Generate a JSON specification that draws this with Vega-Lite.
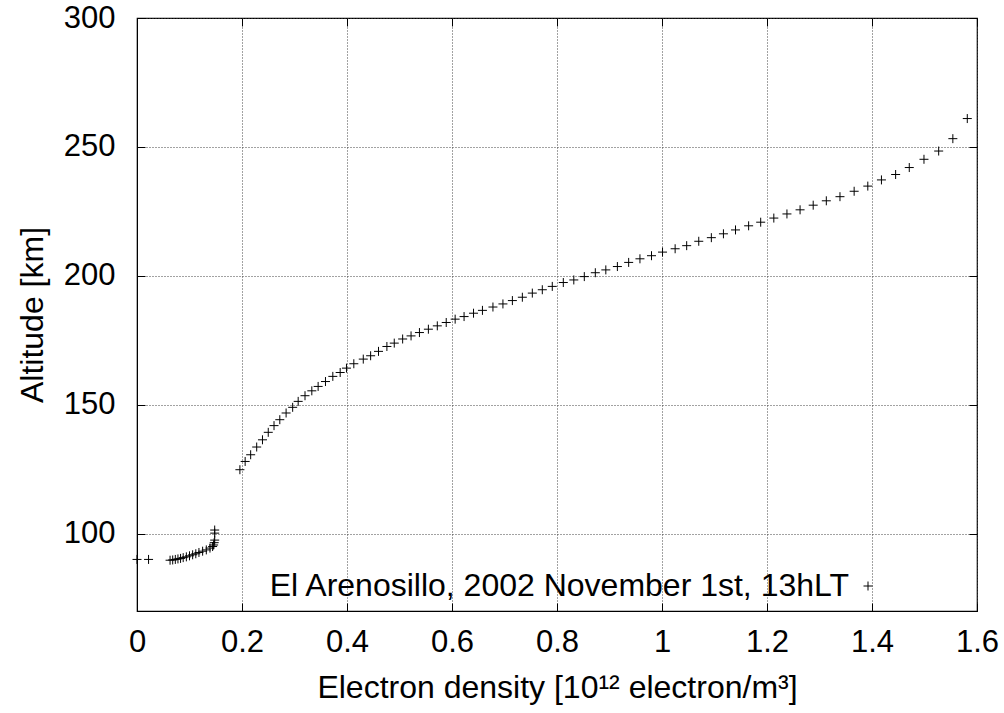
{
  "$schema": "https://vega.github.io/schema/vega-lite/v6.json",
  "width": 840,
  "height": 593,
  "autosize": "none",
  "padding": {"left": 137, "top": 18, "right": 27, "bottom": 102},
  "background": "white",
  "config": {
    "font": "Liberation Sans",
    "view": {"stroke": "black", "strokeWidth": 1.2},
    "axis": {
      "domainColor": "black",
      "tickColor": "black",
      "labelColor": "black",
      "titleColor": "black",
      "labelFont": "Liberation Sans",
      "titleFont": "Liberation Sans",
      "labelFontSize": 31,
      "titleFontSize": 32,
      "titleFontWeight": "normal",
      "labelFlush": false,
      "labelOverlap": false,
      "gridColor": "#444",
      "gridDash": [1, 2],
      "gridWidth": 1,
      "tickSize": -8,
      "tickWidth": 1
    },
    "legend": {
      "labelFont": "Liberation Sans",
      "labelFontSize": 32,
      "labelColor": "black",
      "labelLimit": 0
    }
  },
  "data": {
    "values": [
      {"density": 0.0, "altitude": 90.0},
      {"density": 0.022, "altitude": 90.0},
      {"density": 0.063, "altitude": 89.7},
      {"density": 0.068, "altitude": 89.8},
      {"density": 0.073, "altitude": 90.0},
      {"density": 0.078, "altitude": 90.2},
      {"density": 0.083, "altitude": 90.4},
      {"density": 0.088, "altitude": 90.7},
      {"density": 0.094, "altitude": 91.0},
      {"density": 0.100, "altitude": 91.4},
      {"density": 0.106, "altitude": 91.8},
      {"density": 0.112, "altitude": 92.2},
      {"density": 0.118, "altitude": 92.7},
      {"density": 0.125, "altitude": 93.2},
      {"density": 0.132, "altitude": 93.7},
      {"density": 0.139, "altitude": 94.4},
      {"density": 0.144, "altitude": 95.0},
      {"density": 0.146, "altitude": 95.6},
      {"density": 0.147, "altitude": 96.5},
      {"density": 0.148, "altitude": 97.5},
      {"density": 0.148, "altitude": 100.2},
      {"density": 0.148, "altitude": 101.4},
      {"density": 0.196, "altitude": 124.8},
      {"density": 0.206, "altitude": 128.0},
      {"density": 0.2165, "altitude": 130.6},
      {"density": 0.228, "altitude": 133.6},
      {"density": 0.239, "altitude": 136.4},
      {"density": 0.250, "altitude": 139.3},
      {"density": 0.261, "altitude": 141.9},
      {"density": 0.272, "altitude": 144.2},
      {"density": 0.284, "altitude": 146.8},
      {"density": 0.2965, "altitude": 149.0},
      {"density": 0.307, "altitude": 151.3},
      {"density": 0.320, "altitude": 153.5},
      {"density": 0.333, "altitude": 155.4},
      {"density": 0.345, "altitude": 157.1},
      {"density": 0.359, "altitude": 159.0},
      {"density": 0.373, "altitude": 161.0},
      {"density": 0.387, "altitude": 162.5},
      {"density": 0.399, "altitude": 164.2},
      {"density": 0.413, "altitude": 165.9},
      {"density": 0.431, "altitude": 167.7},
      {"density": 0.445, "altitude": 169.0},
      {"density": 0.460, "altitude": 170.7},
      {"density": 0.476, "altitude": 172.6},
      {"density": 0.490, "altitude": 173.9},
      {"density": 0.506, "altitude": 175.5},
      {"density": 0.522, "altitude": 176.7},
      {"density": 0.538, "altitude": 178.0},
      {"density": 0.555, "altitude": 179.3},
      {"density": 0.572, "altitude": 180.6},
      {"density": 0.589, "altitude": 181.9},
      {"density": 0.606, "altitude": 183.2},
      {"density": 0.623, "altitude": 184.2},
      {"density": 0.641, "altitude": 185.5},
      {"density": 0.658, "altitude": 186.6},
      {"density": 0.678, "altitude": 187.9},
      {"density": 0.697, "altitude": 189.1},
      {"density": 0.715, "altitude": 190.4},
      {"density": 0.734, "altitude": 191.7},
      {"density": 0.753, "altitude": 193.3},
      {"density": 0.772, "altitude": 194.6},
      {"density": 0.791, "altitude": 195.9},
      {"density": 0.812, "altitude": 197.4},
      {"density": 0.832, "altitude": 198.4},
      {"density": 0.852, "altitude": 199.7},
      {"density": 0.873, "altitude": 201.2},
      {"density": 0.893, "altitude": 202.3},
      {"density": 0.915, "altitude": 203.6},
      {"density": 0.9365, "altitude": 205.2},
      {"density": 0.958, "altitude": 206.6},
      {"density": 0.980, "altitude": 207.8},
      {"density": 1.001, "altitude": 209.2},
      {"density": 1.025, "altitude": 210.5},
      {"density": 1.047, "altitude": 211.7},
      {"density": 1.070, "altitude": 213.4},
      {"density": 1.094, "altitude": 214.8},
      {"density": 1.117, "altitude": 216.3},
      {"density": 1.140, "altitude": 217.8},
      {"density": 1.165, "altitude": 219.4},
      {"density": 1.188, "altitude": 220.8},
      {"density": 1.213, "altitude": 222.4},
      {"density": 1.238, "altitude": 224.0},
      {"density": 1.263, "altitude": 225.6},
      {"density": 1.288, "altitude": 227.4},
      {"density": 1.313, "altitude": 229.1},
      {"density": 1.339, "altitude": 230.7},
      {"density": 1.366, "altitude": 232.8},
      {"density": 1.392, "altitude": 234.8},
      {"density": 1.418, "altitude": 237.2},
      {"density": 1.445, "altitude": 239.3},
      {"density": 1.471, "altitude": 242.0},
      {"density": 1.499, "altitude": 245.2},
      {"density": 1.527, "altitude": 248.4},
      {"density": 1.554, "altitude": 253.2},
      {"density": 1.5815, "altitude": 261.0}
    ]
  },
  "layer": [
    {
      "mark": {"type": "point", "filled": false, "stroke": "black", "strokeWidth": 1, "size": 81, "opacity": 1},
      "encoding": {
        "x": {
          "field": "density", "type": "quantitative",
          "scale": {"domain": [0, 1.6], "nice": false, "zero": false},
          "axis": {
            "orient": "bottom",
            "values": [0, 0.2, 0.4, 0.6, 0.8, 1, 1.2, 1.4, 1.6],
            "format": "~g",
            "grid": true,
            "labelPadding": 24,
            "title": "Electron density [10¹² electron/m³]",
            "titlePadding": 15
          }
        },
        "y": {
          "field": "altitude", "type": "quantitative",
          "scale": {"domain": [70, 300], "nice": false, "zero": false},
          "axis": {
            "orient": "left",
            "values": [100, 150, 200, 250, 300],
            "grid": true,
            "labelPadding": 30,
            "title": "Altitude [km]",
            "titlePadding": 14
          }
        },
        "shape": {
          "datum": "El Arenosillo, 2002 November 1st, 13hLT",
          "scale": {"range": ["M-1,0L1,0M0,-1L0,1"]},
          "legend": {
            "title": null,
            "orient": "none",
            "legendX": 715,
            "legendY": 552,
            "padding": 0,
            "symbolSize": 81,
            "symbolStrokeWidth": 1,
            "symbolStrokeColor": "black",
            "labelAlign": "right",
            "labelOffset": -35
          }
        }
      }
    },
    {
      "mark": {"type": "point", "opacity": 0},
      "encoding": {
        "x": {
          "field": "density", "type": "quantitative",
          "axis": {"orient": "top", "values": [0, 0.2, 0.4, 0.6, 0.8, 1, 1.2, 1.4, 1.6], "labels": false, "title": null, "grid": false, "domain": false}
        },
        "y": {
          "field": "altitude", "type": "quantitative",
          "axis": {"orient": "right", "values": [100, 150, 200, 250, 300], "labels": false, "title": null, "grid": false, "domain": false}
        }
      }
    }
  ],
  "resolve": {"axis": {"x": "independent", "y": "independent"}}
}
